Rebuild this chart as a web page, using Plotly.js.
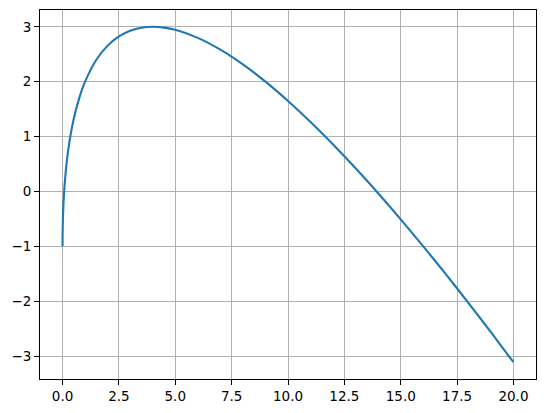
<!DOCTYPE html>
<html>
<head>
<meta charset="utf-8">
<script src="https://cdn.plot.ly/plotly-3.0.1.min.js"></script>
<style>html,body{margin:0;padding:0;background:#fff;}#chart{width:546px;height:413px;}</style>
</head>
<body>
<div id="chart"></div>
<script>
const xValues = [0, 0.001, 0.005, 0.02, 0.05, 0.1, 0.2, 0.3, 0.5, 0.75, 1, 1.5, 2, 2.5, 3, 3.5, 4, 4.5, 5, 6, 7, 8, 9, 10, 11, 12, 13, 14, 15, 16, 17, 18, 19, 20];
const yValues = [-1, -0.8745, -0.7222, -0.4543, -0.1556, 0.1649, 0.5889, 0.8909, 1.3284, 1.7141, 2, 2.399, 2.6569, 2.8246, 2.9282, 2.9833, 3, 2.9853, 2.9443, 2.798, 2.583, 2.3137, 2, 1.6491, 1.2665, 0.8564, 0.4222, -0.0334, -0.5081, -1, -1.5076, -2.0294, -2.5644, -3.1115];
const xTicks = [0, 2.5, 5, 7.5, 10, 12.5, 15, 17.5, 20];
const yTicks = [-3, -2, -1, 0, 1, 2, 3];

const axisCommon = {
  showgrid: true, gridcolor: '#b0b0b0', gridwidth: 1,
  zeroline: false, showline: true, linecolor: '#000', linewidth: 1, mirror: true,
  ticks: 'outside', ticklen: 5, tickwidth: 1, tickcolor: '#000',
  tickfont: {family: 'DejaVu Sans', size: 13.5, color: '#000'}
};

Plotly.newPlot('chart', [{
  x: xValues, y: yValues, type: 'scatter', mode: 'lines',
  line: {color: '#1f77b4', width: 2.1, shape: 'spline', smoothing: 0.6}
}], {
  width: 546, height: 413,
  margin: {l: 40, r: 10, t: 10, b: 34},
  paper_bgcolor: '#fff', plot_bgcolor: '#fff',
  showlegend: false,
  xaxis: Object.assign({}, axisCommon, {range: [-1, 21], tickvals: xTicks, tickformat: '.1f'}),
  yaxis: Object.assign({}, axisCommon, {range: [-3.417, 3.306], tickvals: yTicks})
}, {displayModeBar: false, staticPlot: true});
</script>
</body>
</html>
